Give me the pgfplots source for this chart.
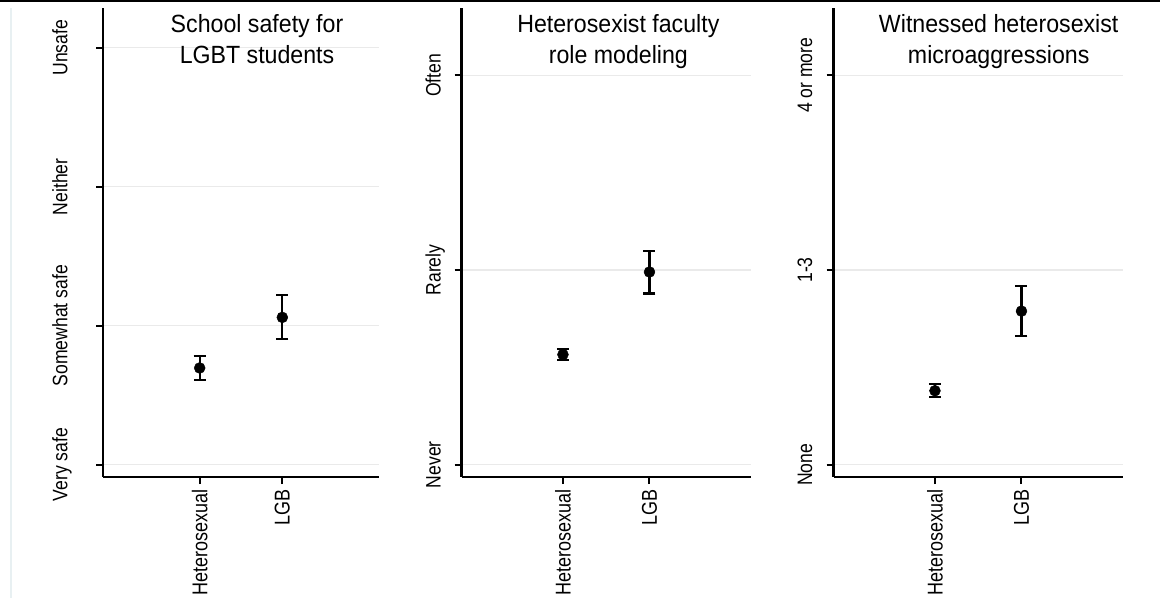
\documentclass[border=0pt]{standalone}
\usepackage{pgfplots}
\pgfplotsset{compat=1.18}
\usepackage{fontspec}
\setmainfont[FakeStretch=0.84]{Liberation Sans}
\newfontfamily\titlefont[FakeStretch=0.93]{Liberation Sans}
\definecolor{gridc}{RGB}{234,234,234}
\definecolor{edgec}{RGB}{232,240,242}
\pgfplotsset{
  panel/.style={
    scale only axis,
    height=469bp,
    anchor=south west,
    axis x line*=bottom,
    axis y line*=left,
    axis line style={-, line width=2.5bp, black},
    xmin=-0.17, xmax=3.17,
    xtick={1,2},
    xticklabels={Heterosexual, LGB},
    tick align=outside,
    major tick length=7bp,
    every tick/.style={black, line width=2bp},
    ymajorgrids,
    major grid style={color=gridc, line width=1.5bp},
    xticklabel style={rotate=90, anchor=east, inner sep=0pt, font=\fontsize{21.5}{25}\selectfont},
    yticklabel style={rotate=90, anchor=base, inner sep=0pt, font=\fontsize{21}{25}\selectfont},
    xticklabel shift=5.5bp,
    title style={anchor=north, align=center, inner sep=0pt, font=\titlefont\fontsize{25}{31}\selectfont},
    clip=false,
  },
  dots/.style={only marks, mark=*, mark size=5.5bp, black,
    error bars/.cd, y dir=both, y explicit,
    error bar style={line width=2.2bp, black},
    error mark options={rotate=90, mark size=6bp, line width=2.2bp, black}},
}
\begin{document}
\begin{tikzpicture}
\useasboundingbox (0,0) rectangle (1160bp,598bp);
\draw[line width=2bp, black] (0,597bp) -- (1160bp,597bp);
\draw[line width=2bp, edgec] (11bp,0) -- (11bp,590bp);

% Panel 1
\begin{axis}[panel,
  at={(103bp,121bp)}, width=276bp,
  ymin=0.9115, ymax=4.286,
  ytick={1,2,3,4},
  yticklabels={Very safe, Somewhat safe, Neither, Unsafe},
  yticklabel shift=28.7bp,
  title={School safety for\\LGBT students},
  title style={at={(rel axis cs:0.558,1)}, yshift=-12.5bp},
]
\addplot[dots] coordinates {
  (1,1.696) += (0,0.086) -= (0,0.087)
  (2,2.060) += (0,0.161) -= (0,0.158)
};
\end{axis}

% Panel 2
\begin{axis}[panel,
  at={(461.7bp,121bp)}, width=289bp,
  ymin=0.937, ymax=3.346,
  ytick={1,2,3},
  yticklabels={Never, Rarely, Often},
  yticklabel shift=14bp,
  title={Heterosexist faculty\\role modeling},
  title style={at={(rel axis cs:0.542,1)}, yshift=-12.5bp},
]
\addplot[dots] coordinates {
  (1,1.566) += (0,0.028) -= (0,0.028)
  (2,1.990) += (0,0.109) -= (0,0.110)
};
\end{axis}

% Panel 3
\begin{axis}[panel,
  at={(833.7bp,121bp)}, width=289bp,
  ymin=0.937, ymax=3.346,
  ytick={1,2,3},
  yticklabels={None, 1-3, 4 or more},
  yticklabel shift=14.7bp,
  title={Witnessed heterosexist\\microaggressions},
  title style={at={(rel axis cs:0.571,1)}, yshift=-12.5bp},
]
\addplot[dots] coordinates {
  (1,1.380) += (0,0.034) -= (0,0.034)
  (2,1.789) += (0,0.129) -= (0,0.126)
};
\end{axis}
\end{tikzpicture}
\end{document}
